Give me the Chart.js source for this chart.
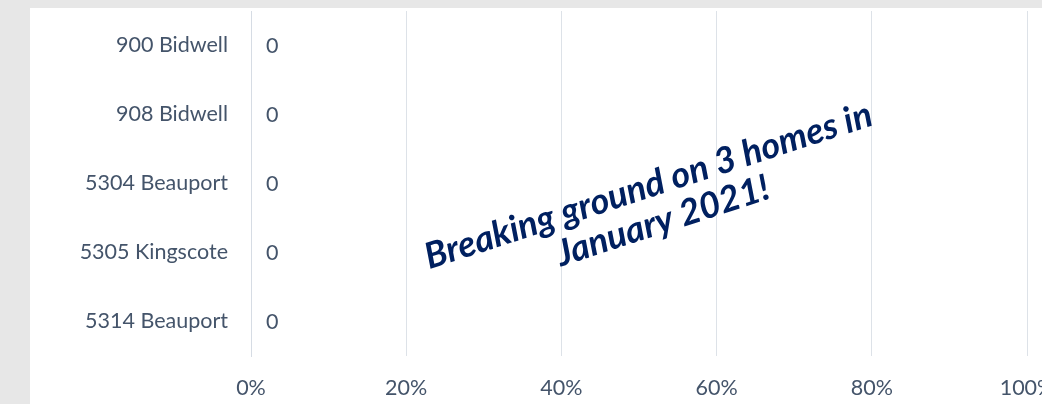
<!DOCTYPE html>
<html>
<head>
<meta charset="utf-8">
<script src="https://cdn.jsdelivr.net/npm/chart.js@4/dist/chart.umd.min.js"></script>
<style>
  html, body { margin: 0; padding: 0; background: #e7e7e7; overflow: hidden; width: 1042px; height: 404px; }
  #panel { position: absolute; left: 30px; top: 8px; width: 1012px; height: 396px; background: #ffffff; overflow: hidden; }
  canvas { display: block; }
</style>
</head>
<body>
<div id="panel"><canvas id="c" width="1012" height="396"></canvas></div>
<script>
const categories = ["900 Bidwell", "908 Bidwell", "5304 Beauport", "5305 Kingscote", "5314 Beauport"];
const values = [0, 0, 0, 0, 0];
const xTicks = [0, 0.2, 0.4, 0.6, 0.8, 1.0];
const noteLines = ["Breaking ground on 3 homes in", "January 2021!"];

const textColor = '#44546a';
const gridColor = '#dde2e8';
const labelFont = { family: 'Lato', size: 21.5 };

const dataLabels = {
  id: 'dataLabels',
  afterDatasetsDraw(chart) {
    const ctx = chart.ctx;
    ctx.save();
    ctx.font = '21.5px Lato';
    ctx.fillStyle = textColor;
    ctx.textAlign = 'left';
    ctx.textBaseline = 'middle';
    chart.data.datasets.forEach((ds, di) => {
      chart.getDatasetMeta(di).data.forEach((bar, i) => {
        ctx.fillText(String(ds.data[i]), bar.x + 15, bar.y + 1);
      });
    });
    ctx.restore();
  }
};

const note = {
  id: 'note',
  afterDraw(chart) {
    const ctx = chart.ctx;
    ctx.save();
    ctx.translate(622, 189);
    ctx.rotate(-18 * Math.PI / 180);
    ctx.font = 'italic bold 36px Lato';
    ctx.fillStyle = '#002060';
    ctx.textAlign = 'center';
    ctx.textBaseline = 'alphabetic';
    noteLines.forEach((t, i) => ctx.fillText(t, i * 3, i * 38));
    ctx.restore();
  }
};

new Chart(document.getElementById('c'), {
  type: 'bar',
  data: {
    labels: categories,
    datasets: [{ data: values, backgroundColor: '#4472c4', borderWidth: 0 }]
  },
  options: {
    indexAxis: 'y',
    responsive: false,
    animation: false,
    layout: { padding: { top: 3, right: 15, left: 0, bottom: 0 } },
    plugins: { legend: { display: false }, tooltip: { enabled: false } },
    scales: {
      x: {
        min: 0, max: 1,
        afterBuildTicks(scale) { scale.ticks = xTicks.map(v => ({ value: v })); },
        afterFit(scale) { scale.height = 48; scale.paddingRight = 0; scale.paddingLeft = 0; },
        ticks: {
          color: textColor, font: labelFont, padding: 19, maxRotation: 0,
          callback: v => Math.round(v * 100) + '%'
        },
        grid: { color: gridColor, lineWidth: 1, drawTicks: false },
        border: { display: false }
      },
      y: {
        afterFit(scale) { scale.width = 221; scale.paddingTop = 0; scale.paddingBottom = 0; },
        ticks: { color: textColor, font: labelFont, padding: 23 },
        grid: { display: false, drawTicks: false },
        border: { display: true, color: '#d6dce4', width: 1 }
      }
    }
  },
  plugins: [dataLabels, note]
});
</script>
</body>
</html>
